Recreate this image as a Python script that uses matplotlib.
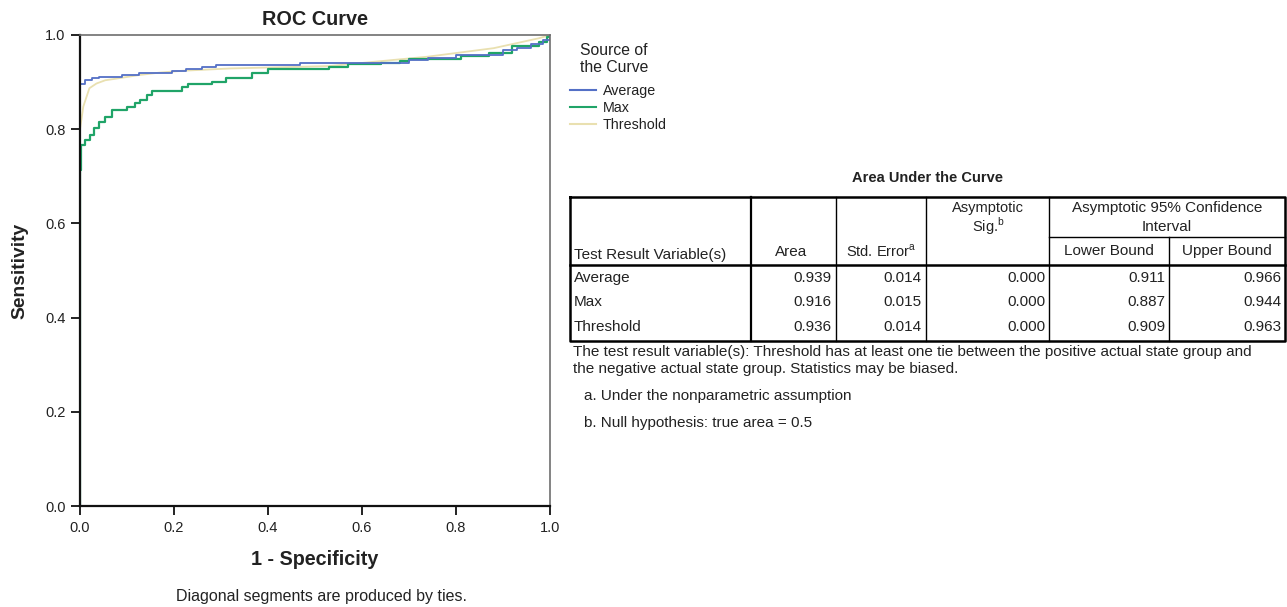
import matplotlib.pyplot as plt

plt.rcParams['font.family'] = ['Liberation Sans', 'DejaVu Sans']
plt.rcParams['mathtext.fontset'] = 'custom'
plt.rcParams['mathtext.rm'] = 'Liberation Sans'

# ROC curves (1 - specificity, sensitivity)
avg_fpr = [0, 0, 0.011, 0.025, 0.04, 0.09, 0.126, 0.196, 0.225, 0.26, 0.29, 0.468,
           0.70, 0.74, 0.80, 0.90, 0.93, 0.96, 0.985, 1.0]
avg_tpr = [0, 0.897, 0.904, 0.909, 0.911, 0.915, 0.920, 0.924, 0.927, 0.931, 0.936, 0.941,
           0.946, 0.952, 0.958, 0.968, 0.972, 0.980, 0.990, 1.0]

max_fpr = [0, 0, 0.003, 0.011, 0.022, 0.03, 0.04, 0.054, 0.068, 0.10, 0.118, 0.128,
           0.142, 0.153, 0.217, 0.23, 0.28, 0.31, 0.366, 0.40, 0.53, 0.57, 0.64, 0.68,
           0.70, 0.74, 0.81, 0.87, 0.92, 0.976, 0.993, 1.0]
max_tpr = [0, 0.713, 0.766, 0.777, 0.788, 0.802, 0.816, 0.825, 0.841, 0.848, 0.855, 0.863,
           0.873, 0.882, 0.889, 0.896, 0.901, 0.908, 0.919, 0.927, 0.933, 0.938, 0.940, 0.945,
           0.948, 0.950, 0.955, 0.961, 0.977, 0.986, 0.996, 1.0]

thr_fpr = [0, 0, 0.007, 0.02, 0.035, 0.054, 0.075, 0.126, 0.168, 0.217, 0.32, 0.53,
           0.74, 0.88, 0.976, 1.0]
thr_tpr = [0, 0.80, 0.848, 0.887, 0.897, 0.904, 0.907, 0.915, 0.920, 0.924, 0.929, 0.934,
           0.954, 0.972, 0.993, 1.0]

# table values
row_names = ['Average', 'Max', 'Threshold']
area = ['0.939', '0.916', '0.936']
std_err = ['0.014', '0.015', '0.014']
sig = ['0.000', '0.000', '0.000']
lower_b = ['0.911', '0.887', '0.909']
upper_b = ['0.966', '0.944', '0.963']

c_avg = '#5470c6'
c_max = '#20a468'
c_thr = '#e9e0b0'
txt_c = '#222222'

fig = plt.figure(figsize=(12.87, 6.07), dpi=100)
ax = fig.add_axes([80 / 1287, 1 - 506 / 607, 470 / 1287, 471 / 607])

ax.plot(thr_fpr, thr_tpr, color=c_thr, lw=1.3, label='Threshold', zorder=2)
ax.plot(max_fpr, max_tpr, color=c_max, lw=1.6, drawstyle='steps-post', label='Max', zorder=2.1)
ax.plot(avg_fpr, avg_tpr, color=c_avg, lw=1.3, drawstyle='steps-post', label='Average', zorder=2.2)

ax.set_xlim(0, 1)
ax.set_ylim(0, 1)
ax.set_xticks([0, 0.2, 0.4, 0.6, 0.8, 1.0])
ax.set_yticks([0, 0.2, 0.4, 0.6, 0.8, 1.0])
ax.set_xticklabels(['0.0', '0.2', '0.4', '0.6', '0.8', '1.0'])
ax.set_yticklabels(['0.0', '0.2', '0.4', '0.6', '0.8', '1.0'])
ax.tick_params(direction='out', length=6.5, width=1.3, labelsize=10.5,
               colors='#111111', labelcolor=txt_c, pad=4)
for s in ['left', 'bottom']:
    ax.spines[s].set_linewidth(1.6)
    ax.spines[s].set_color('#111111')
for s in ['top', 'right']:
    ax.spines[s].set_color('#6e6e6e')
    ax.spines[s].set_linewidth(1.2)

ax.set_title('ROC Curve', fontsize=14.3, fontweight='bold', pad=7, color=txt_c)
ax.set_ylabel('Sensitivity', fontsize=13.9, fontweight='bold', labelpad=12, color=txt_c)
ax.set_xlabel('1 - Specificity', fontsize=14.2, fontweight='bold', labelpad=11, color=txt_c)
fig.text(322 / 1287, 1 - 596 / 607, 'Diagonal segments are produced by ties.',
         ha='center', va='center', fontsize=11.5, color=txt_c)

# legend
fig.text(614 / 1287, 1 - 59 / 607, 'Source of\nthe Curve', ha='center', va='center',
         fontsize=11.3, color=txt_c, linespacing=1.2)
h, l = ax.get_legend_handles_labels()
order = [2, 1, 0]
leg = fig.legend([h[i] for i in order], [l[i] for i in order],
                 loc='upper left', bbox_to_anchor=(570 / 1287, 1 - 84 / 607),
                 frameon=False, fontsize=10.3, handlelength=1.8, handletextpad=0.5,
                 labelspacing=0.2, borderaxespad=0, borderpad=0)
for t in leg.get_texts():
    t.set_color(txt_c)
for ln in leg.get_lines():
    ln.set_linewidth(1.5)

# table drawn in pixel coordinates
tb = fig.add_axes([0, 0, 1, 1])
tb.set_xlim(0, 1287)
tb.set_ylim(607, 0)
tb.axis('off')

x0, x1 = 570, 1285
y0, y1 = 197, 341
tb.plot([x0, x1, x1, x0, x0], [y0, y0, y1, y1, y0], color='black', lw=1.8)
tb.plot([x0, x1], [265, 265], color='black', lw=1.8)
tb.plot([1049, x1], [237, 237], color='black', lw=1.0)
for cx in [751, 836, 926, 1049]:
    tb.plot([cx, cx], [y0, y1], color='black', lw=1.6 if cx == 751 else 1.0)
tb.plot([1169, 1169], [237, y1], color='black', lw=1.0)

tb.text(927, 178, 'Area Under the Curve', ha='center', va='center',
        fontsize=10.5, fontweight='bold', color=txt_c)

fs = 11
tb.text(574, 255, 'Test Result Variable(s)', ha='left', va='center', fontsize=fs, color=txt_c)
tb.text(791, 252, 'Area', ha='center', va='center', fontsize=fs, color=txt_c)
tb.text(881, 251, r'Std. Error$^{\mathrm{a}}$', ha='center', va='center', fontsize=10.5, color=txt_c)
tb.text(988, 201, 'Asymptotic\n' + r'Sig.$^{\mathrm{b}}$', ha='center', va='top',
        fontsize=10.5, color=txt_c, linespacing=1.0, multialignment='center')
tb.text(1167, 201, 'Asymptotic 95% Confidence\nInterval', ha='center', va='top',
        fontsize=fs, color=txt_c, linespacing=1.45, multialignment='center')
tb.text(1109, 251, 'Lower Bound', ha='center', va='center', fontsize=fs, color=txt_c)
tb.text(1227, 251, 'Upper Bound', ha='center', va='center', fontsize=fs, color=txt_c)

row_y = [278, 302, 327]
for i, name in enumerate(row_names):
    y = row_y[i]
    tb.text(574, y, name, ha='left', va='center', fontsize=fs, color=txt_c)
    for val, right in zip([area[i], std_err[i], sig[i], lower_b[i], upper_b[i]],
                          [832, 922, 1045, 1165, 1281]):
        tb.text(right, y, val, ha='right', va='center', fontsize=fs, color=txt_c)

notes = [(573, 352, 'The test result variable(s): Threshold has at least one tie between the positive actual state group and'),
         (573, 369, 'the negative actual state group. Statistics may be biased.'),
         (584, 396, 'a. Under the nonparametric assumption'),
         (584, 423, 'b. Null hypothesis: true area = 0.5')]
for nx, ny, txt in notes:
    tb.text(nx, ny, txt, ha='left', va='center', fontsize=fs, color=txt_c)

fig.savefig('out.png', dpi=100)
